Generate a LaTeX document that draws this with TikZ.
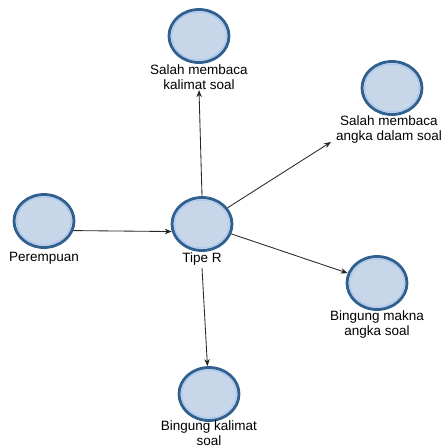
\documentclass[tikz,border=0pt]{standalone}
\usepackage{fontspec}
\setmainfont{Liberation Sans}
\usetikzlibrary{shapes.geometric,arrows.meta}
\definecolor{cfill}{HTML}{C8D6EA}
\definecolor{cborder}{HTML}{30608E}
\definecolor{cinner}{HTML}{A8C6EA}
\tikzset{
  circ/.style={ellipse, draw=cborder, line width=2.8pt, fill=cfill, minimum width=60pt, minimum height=53pt, inner sep=0pt},
  lbl/.style={align=center, inner sep=0pt, font=\fontsize{13.5}{14.8}\selectfont},
  conn/.style={draw=black!85, line width=0.85pt, -{Stealth[length=7pt,width=5.5pt]}}
}
\begin{document}
\begin{tikzpicture}[x=1pt,y=-1pt]
\useasboundingbox (0,0) rectangle (444,448);
\node[circ] (top) at (199,36) {};
\node[circ] (ur) at (392,88) {};
\node[circ] (per) at (44,221) {};
\node[circ] (tipe) at (202,224) {};
\node[circ] (bm) at (377,283) {};
\node[circ] (bk) at (209,394) {};
\foreach \n in {top,ur,per,tipe,bm,bk}{
  \draw[cinner, line width=0.9pt] (\n) ellipse (27.4pt and 24.0pt);
}
\node[lbl, anchor=north] (toplbl) at (199,65) {Salah membaca\\kalimat soal};
\node[lbl, anchor=north] (urlbl) at (389,116) {Salah membaca\\angka dalam soal};
\node[lbl, anchor=north] (perlbl) at (44,252) {Perempuan};
\node[lbl, anchor=north] (tipelbl) at (202,253) {Tipe R};
\node[lbl, anchor=north] (bmlbl) at (377,311) {Bingung makna\\angka soal};
\node[lbl, anchor=north] (bklbl) at (209,421) {Bingung kalimat\\soal};
\coordinate (urend) at (331,142);
\draw[conn] (per.-18) -- (tipe.194);
\draw[conn] (tipe.north) -- (toplbl.south);
\draw[conn] (tipe) -- (urend);
\draw[conn] (tipe) -- (bm);
\draw[conn] ([yshift=-2pt]tipelbl.south) -- (bk);
\end{tikzpicture}
\end{document}
